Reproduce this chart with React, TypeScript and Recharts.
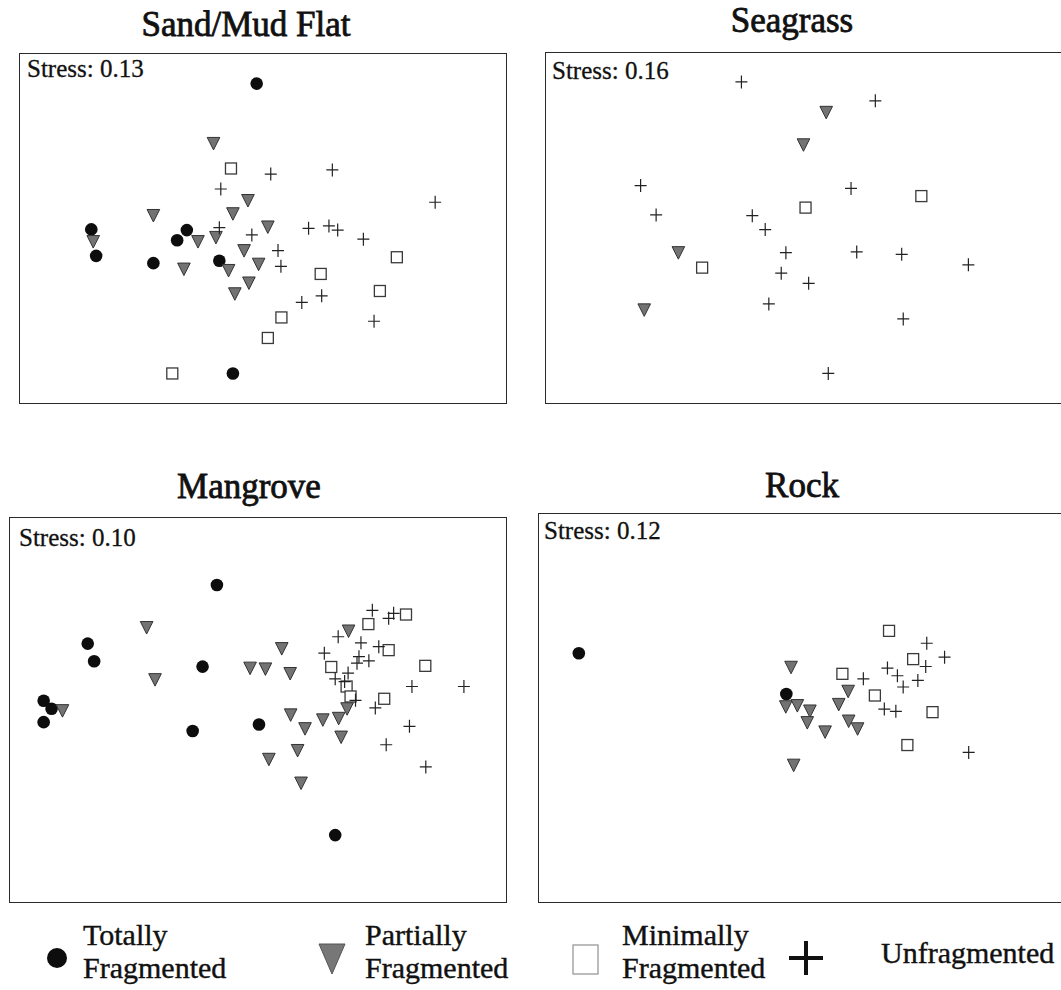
import React from 'react';
import { ScatterChart, Scatter, XAxis, YAxis } from 'recharts';

// NMDS ordination scores (rescaled 0-100 in each panel)
const sandTotally = [[48.8, 91.5], [14.7, 49.6], [15.7, 42.0], [34.4, 49.4], [32.4, 46.5], [27.5, 39.9], [41.1, 40.6], [43.9, 8.2]];
const sandPartially = [[39.9, 74.3], [15.1, 46.1], [27.5, 53.6], [47.0, 57.9], [43.9, 54.1], [51.1, 50.3], [40.4, 47.3], [36.7, 46.1], [46.2, 43.5], [49.2, 39.6], [33.8, 38.2], [43.0, 37.8], [47.2, 34.2], [44.3, 31.1]];
const sandMinimally = [[43.5, 67.1], [77.7, 41.6], [62.0, 36.8], [74.2, 31.9], [53.9, 24.3], [51.1, 18.4], [31.4, 8.2]];
const sandUnfragmented = [[64.4, 66.7], [51.7, 65.5], [41.4, 61.2], [85.6, 57.4], [41.1, 50.1], [59.5, 49.9], [63.7, 50.6], [65.5, 49.4], [70.8, 46.8], [47.8, 48.0], [53.2, 43.5], [53.8, 39.0], [62.2, 30.5], [58.1, 28.6], [73.0, 23.2]];

const seaTotally: number[][] = [];
const seaPartially = [[54.2, 83.0], [49.8, 73.7], [25.6, 42.8], [19.0, 26.4]];
const seaMinimally = [[50.2, 55.7], [72.6, 59.0], [30.2, 38.5]];
const seaUnfragmented = [[37.8, 91.7], [63.7, 86.3], [18.3, 62.0], [59.0, 61.2], [21.3, 53.6], [39.9, 53.4], [42.4, 49.4], [46.4, 42.8], [60.1, 43.0], [68.8, 42.3], [81.7, 39.3], [45.5, 36.9], [50.8, 34.0], [43.1, 28.1], [69.1, 23.8], [54.6, 8.2]];

const mangTotally = [[41.8, 82.5], [15.7, 67.2], [17.0, 62.6], [38.9, 61.2], [6.8, 52.3], [8.4, 50.2], [6.8, 46.7], [36.9, 44.4], [50.3, 46.1], [65.7, 17.2]];
const mangPartially = [[27.6, 71.4], [29.3, 57.8], [10.6, 49.7], [54.9, 65.9], [48.5, 60.8], [51.6, 60.6], [56.6, 59.4], [68.4, 70.5], [56.7, 48.6], [59.6, 45.0], [63.2, 47.3], [66.4, 47.7], [68.1, 50.2], [66.9, 42.8], [58.1, 39.3], [52.3, 37.0], [58.8, 30.8]];
const mangMinimally = [[80.0, 74.8], [72.4, 72.3], [76.5, 65.5], [64.9, 61.1], [83.9, 61.4], [68.0, 56.0], [68.8, 53.4], [75.6, 52.8]];
const mangUnfragmented = [[73.2, 75.9], [76.5, 73.8], [77.5, 75.1], [66.3, 69.0], [70.9, 67.4], [74.5, 66.4], [63.5, 64.7], [70.5, 63.8], [72.5, 62.7], [70.1, 62.1], [68.3, 59.5], [65.7, 58.0], [67.6, 57.3], [81.2, 56.0], [91.7, 56.0], [69.8, 52.4], [73.8, 50.4], [80.7, 45.6], [76.0, 40.8], [84.0, 35.0]];

const rockTotally = [[7.6, 64.0], [47.2, 53.5]];
const rockPartially = [[48.1, 60.4], [59.0, 54.2], [47.1, 50.2], [49.3, 50.5], [57.2, 50.8], [51.7, 49.1], [51.2, 46.1], [59.1, 46.5], [60.8, 44.5], [54.6, 43.7], [48.6, 35.1]];
const rockMinimally = [[66.8, 69.8], [71.4, 62.5], [57.9, 58.7], [64.1, 53.1], [75.1, 48.8], [70.3, 40.3]];
const rockUnfragmented = [[74.0, 66.6], [77.4, 63.0], [73.8, 60.6], [66.5, 60.2], [68.4, 58.2], [61.9, 57.4], [72.3, 57.0], [69.5, 55.3], [65.9, 49.6], [68.1, 49.0], [82.0, 38.4]];

const panelTitles = ['Sand/Mud Flat', 'Seagrass', 'Mangrove', 'Rock'];
const stressValues = ['0.13', '0.16', '0.10', '0.12'];
const groupLabels = [['Totally', 'Fragmented'], ['Partially', 'Fragmented'], ['Minimally', 'Fragmented'], ['Unfragmented']];

const toPoints = (arr: number[][]) => arr.map(([x, y]) => ({ x, y }));

const FONT = '"Liberation Serif", "Times New Roman", serif';

const Dot = (props: any) => <circle cx={props.cx} cy={props.cy} r={6.3} fill="#0d0d0d" />;
const Tri = (props: any) => {
  const { cx, cy } = props;
  return <path d={`M${cx - 6.3},${cy - 6}L${cx + 6.3},${cy - 6}L${cx},${cy + 6.5}Z`} fill="#737373" stroke="#333" strokeWidth={1} />;
};
const Box = (props: any) => <rect x={props.cx - 5.5} y={props.cy - 5.5} width={11} height={11} fill="#fff" stroke="#3a3a3a" strokeWidth={1.3} />;
const Plus = (props: any) => {
  const { cx, cy } = props;
  return <path d={`M${cx - 6},${cy}H${cx + 6}M${cx},${cy - 6.5}V${cy + 6.5}`} stroke="#222" strokeWidth={1.2} fill="none" />;
};

const panels = [
  { groups: [sandTotally, sandPartially, sandMinimally, sandUnfragmented], left: 19, top: 53, width: 488, height: 351 },
  { groups: [seaTotally, seaPartially, seaMinimally, seaUnfragmented], left: 545, top: 52, width: 520, height: 352 },
  { groups: [mangTotally, mangPartially, mangMinimally, mangUnfragmented], left: 9, top: 517, width: 498, height: 386 },
  { groups: [rockTotally, rockPartially, rockMinimally, rockUnfragmented], left: 538, top: 513, width: 527, height: 390 },
];
const titlePos = [[246, 36], [792, 32], [249, 498], [802, 497]];
const stressPos = [[27, 77], [552, 79], [19, 546], [544, 539]];
const shapes = [Dot, Tri, Box, Plus];

const Panel = ({ p }: { p: typeof panels[0] }) => (
  <div style={{ position: 'absolute', left: p.left, top: p.top, width: p.width, height: p.height, border: '1.5px solid #2a2a2a', boxSizing: 'border-box', background: '#fff' }}>
    <ScatterChart width={p.width - 3} height={p.height - 3} margin={{ top: 0, right: 0, bottom: 0, left: 0 }}>
      <XAxis type="number" dataKey="x" domain={[0, 100]} hide />
      <YAxis type="number" dataKey="y" domain={[0, 100]} hide />
      {p.groups.map((g, i) => (
        <Scatter key={i} data={toPoints(g)} shape={shapes[i]} isAnimationActive={false} />
      ))}
    </ScatterChart>
  </div>
);

export default function App() {
  return (
    <div style={{ position: 'absolute', left: 0, top: 0, width: 1061, height: 990, background: '#fff', overflow: 'hidden', fontFamily: FONT }}>
      {panels.map((p, i) => <Panel key={i} p={p} />)}
      <svg width={1061} height={990} style={{ position: 'absolute', left: 0, top: 0, pointerEvents: 'none' }} fontFamily={FONT}>
        {panelTitles.map((t, i) => (
          <text key={t} x={titlePos[i][0]} y={titlePos[i][1]} textAnchor="middle" fontSize={35} fill="#111" stroke="#111" strokeWidth={0.8}>{t}</text>
        ))}
        {stressValues.map((s, i) => (
          <text key={i} x={stressPos[i][0]} y={stressPos[i][1]} fontSize={25} fill="#111" stroke="#111" strokeWidth={0.3}>{`Stress: ${s}`}</text>
        ))}
        {/* legend */}
        <circle cx={57} cy={958} r={10} fill="#0d0d0d" />
        <path d="M319,944L345,944L332,974Z" fill="#777" stroke="#555" strokeWidth={1} />
        <rect x={573} y={945} width={25} height={29} fill="#fff" stroke="#999" strokeWidth={1.3} />
        <path d="M789,958H823M806,941V975" stroke="#111" strokeWidth={4} />
        {groupLabels.map((lines, i) => {
          const xs = [83, 365, 622, 881];
          if (lines.length === 1) {
            return <text key={i} x={xs[i]} y={963} fontSize={30} fill="#111" stroke="#111" strokeWidth={0.4}>{lines[0]}</text>;
          }
          return (
            <text key={i} x={xs[i]} fontSize={30} fill="#111" stroke="#111" strokeWidth={0.4}>
              <tspan x={xs[i]} y={945}>{lines[0]}</tspan>
              <tspan x={xs[i]} y={978}>{lines[1]}</tspan>
            </text>
          );
        })}
      </svg>
    </div>
  );
}
